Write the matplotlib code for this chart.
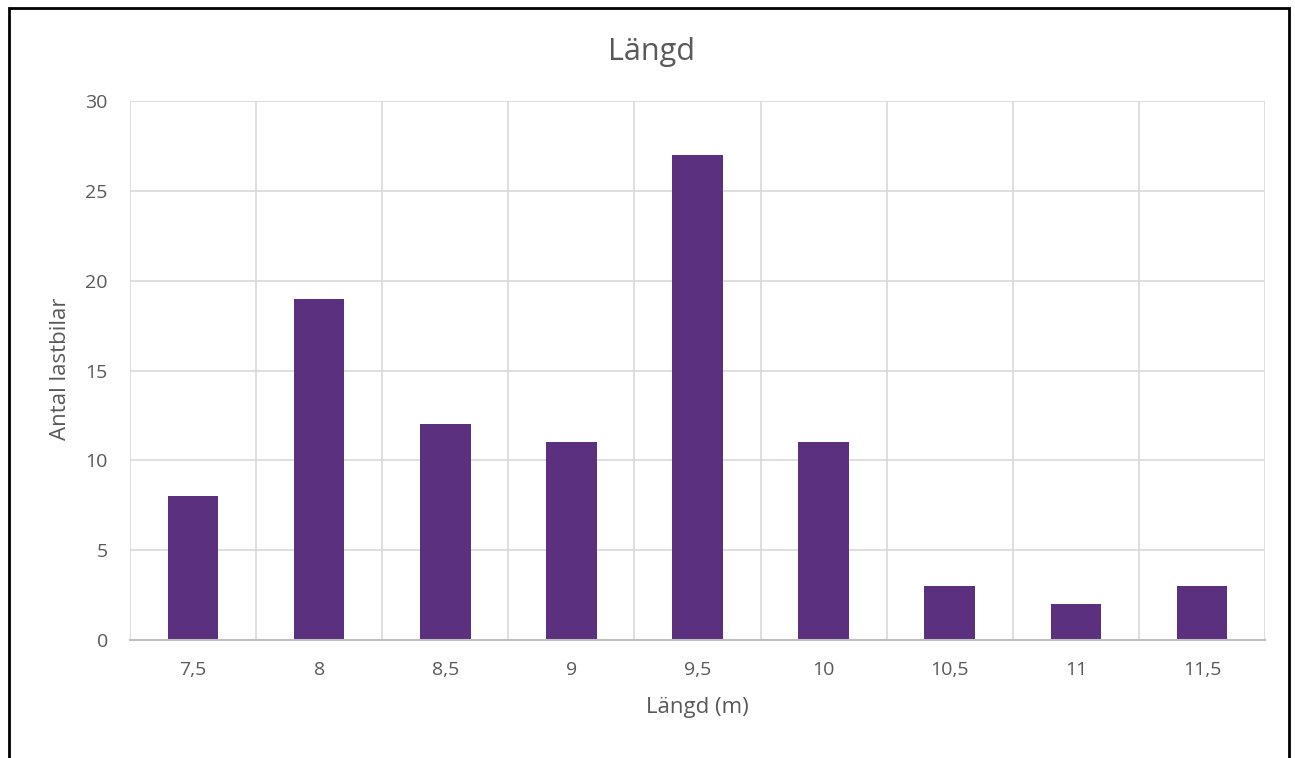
import matplotlib.pyplot as plt
from matplotlib.patches import Rectangle

# lengths of the trucks (m) and how many of each
lengths = ["7,5", "8", "8,5", "9", "9,5", "10", "10,5", "11", "11,5"]
counts = [8, 19, 12, 11, 27, 11, 3, 2, 3]
y_ticks = [0, 5, 10, 15, 20, 25, 30]

bar_color = "#5B317F"
text_color = "#595959"
grid_color = "#D9D9D9"

plt.rcParams["font.family"] = ["Open Sans", "DejaVu Sans"]

W, H = 1295, 758
fig = plt.figure(figsize=(W / 100, H / 100), dpi=100)
ax = fig.add_axes([130 / W, 1 - 640 / H, 1135 / W, 539 / H])

pos = list(range(len(lengths)))
ax.bar(pos, counts, width=0.4, color=bar_color, zorder=3)

ax.set_xlim(-0.5, len(lengths) - 0.5)
ax.set_ylim(0, 30)
ax.set_yticks(y_ticks)
ax.set_xticks(pos)
ax.set_xticklabels(lengths)

# grid: horizontal at each tick, vertical between categories
for y in y_ticks[1:]:
    ax.axhline(y, color=grid_color, lw=1.2, zorder=1)
for i in range(len(lengths) + 1):
    ax.axvline(i - 0.5, color=grid_color, lw=1.2, zorder=1)

for side in ["top", "left", "right"]:
    ax.spines[side].set_visible(False)
ax.spines["bottom"].set_color("#BFBFBF")
ax.spines["bottom"].set_linewidth(1.5)
ax.spines["bottom"].set_zorder(4)

ax.tick_params(axis="both", length=0, labelsize=14, colors=text_color)
ax.tick_params(axis="x", pad=15)
ax.tick_params(axis="y", pad=16)

# titles placed in figure pixels
fig.text(652 / W, 1 - 52 / H, "Längd", fontsize=22, color=text_color,
         ha="center", va="center")
fig.text(697 / W, 1 - 708 / H, "Längd (m)", fontsize=16, color=text_color,
         ha="center", va="center")
fig.text(60 / W, 1 - 369 / H, "Antal lastbilar", fontsize=16,
         color=text_color, ha="center", va="center", rotation=90)

# outer frame around the chart
frame = Rectangle((8.5 / W, -0.05), 1280 / W, 1.05 - 7.5 / H,
                  transform=fig.transFigure, fill=False, edgecolor="black",
                  lw=2, clip_on=False)
fig.patches.append(frame)

fig.savefig("out.png", dpi=100)
